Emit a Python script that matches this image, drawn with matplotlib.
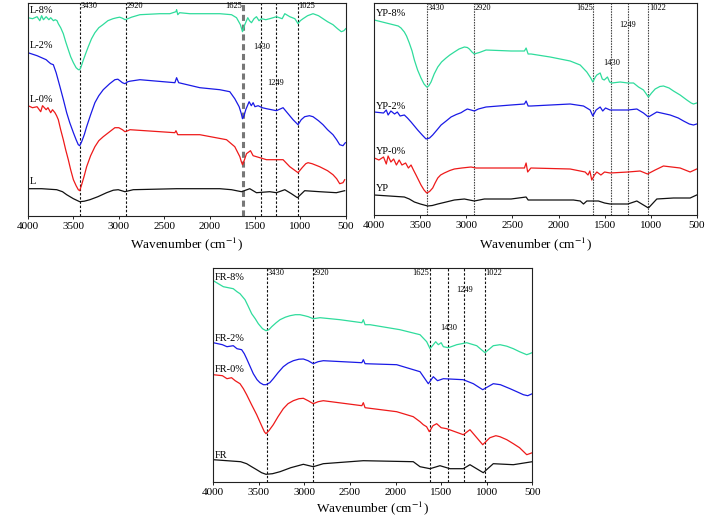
import matplotlib
matplotlib.use("Agg")
import matplotlib.pyplot as plt

# ---------------- data (wavenumber cm-1, relative transmittance) ----------------
xticks = [4000, 3500, 3000, 2500, 2000, 1500, 1000, 500]
xlabel_text = "Wavenumber (cm$^{-1}$)"

# Panel L
L8_wn = [4000, 3950, 3900, 3870, 3850, 3830, 3800, 3770, 3750, 3720, 3700, 3680, 3666, 3640, 3611, 3585, 3556, 3530, 3500, 3470, 3445, 3430, 3415, 3393, 3365, 3336, 3300, 3263, 3220, 3175, 3120, 3064, 3020, 2990, 2960, 2930, 2900, 2860, 2767, 2547, 2437, 2370, 2363, 2350, 2330, 2217, 1887, 1758, 1703, 1660, 1637, 1612, 1579, 1560, 1538, 1510, 1483, 1455, 1428, 1380, 1337, 1263, 1200, 1171, 1116, 1060, 1025, 1000, 970, 920, 860, 800, 750, 700, 640, 590, 548, 520, 500]
L8_T = [198, 197, 199, 195, 200, 196, 199, 196, 198, 195, 196, 195, 192, 188, 182, 174, 166, 159, 153, 148, 146, 146, 149, 155, 162, 169, 177, 183, 188, 191, 195, 197, 198, 198.5, 197.5, 196, 197, 198.5, 201, 202, 202, 204, 206, 201, 203, 202, 202, 201, 198, 191, 184, 191, 198, 195, 193, 197, 199, 195, 197, 196, 197, 199, 197, 202, 199, 197, 192, 195, 197, 200, 202, 200, 197, 194, 191, 187, 184, 185, 187]
L2_wn = [4000, 3900, 3800, 3776, 3750, 3721, 3690, 3648, 3610, 3574, 3540, 3500, 3470, 3446, 3430, 3409, 3380, 3354, 3310, 3263, 3220, 3171, 3100, 3043, 3010, 2988, 2960, 2932, 2900, 2877, 2767, 2382, 2363, 2340, 2107, 1887, 1777, 1722, 1674, 1650, 1637, 1620, 1601, 1564, 1540, 1520, 1500, 1465, 1420, 1373, 1263, 1190, 1135, 1080, 1025, 990, 952, 900, 860, 800, 750, 700, 640, 600, 566, 530, 504]
L2_T = [163, 160, 156, 154, 152, 151, 143, 129, 116, 103, 93, 83, 76, 71, 70, 74, 81, 89, 101, 113, 120, 126, 132, 136, 136.5, 135, 133, 132, 134, 134.5, 136, 133, 138, 133, 128, 126, 124, 117, 109, 102, 97, 100, 106, 114, 110, 113, 109, 110, 108, 107, 105, 108, 102, 96, 91, 96, 99, 100, 99, 95, 91, 86, 81, 76, 71, 70, 73]
L0_wn = [4000, 3950, 3900, 3860, 3840, 3800, 3780, 3750, 3730, 3703, 3685, 3666, 3640, 3611, 3585, 3556, 3530, 3500, 3470, 3446, 3430, 3409, 3380, 3354, 3310, 3263, 3220, 3171, 3100, 3043, 3000, 2960, 2932, 2900, 2877, 2382, 2370, 2350, 2107, 1813, 1722, 1666, 1650, 1637, 1615, 1593, 1549, 1520, 1483, 1373, 1263, 1190, 1116, 1025, 980, 940, 915, 870, 787, 700, 640, 600, 566, 530, 511]
L0_T = [110, 108, 109, 104, 110, 106, 108, 103, 106, 103, 100, 96, 86, 76, 66, 56, 46, 36, 30, 26, 25, 31, 40, 49, 60, 69, 75, 79, 84, 88, 88, 86, 84, 85, 86, 83, 85, 81, 81, 76, 69, 59, 54, 51, 56, 62, 65, 60, 59, 56, 56, 56, 49, 43, 48, 52, 53, 52, 49, 45, 41, 37, 32, 33, 36]
L_wn = [4000, 3850, 3684, 3620, 3574, 3500, 3430, 3380, 3318, 3230, 3134, 3060, 3006, 2932, 2841, 2363, 1887, 1758, 1648, 1557, 1483, 1337, 1263, 1171, 1098, 1032, 952, 787, 603, 511]
L_T = [27, 27, 26, 24, 21, 17, 14, 14.5, 16, 19, 23, 25.5, 26, 24, 26, 27, 27, 26, 24, 27, 23, 24, 23, 26, 22, 18, 25, 24, 23, 25]

# Panel YP
YP8_wn = [4000, 3783, 3740, 3710, 3674, 3650, 3620, 3590, 3565, 3530, 3493, 3460, 3431, 3410, 3384, 3350, 3311, 3270, 3221, 3180, 3131, 3080, 3022, 2990, 2968, 2940, 2914, 2880, 2859, 2787, 2515, 2370, 2352, 2330, 2298, 2091, 1874, 1765, 1693, 1650, 1628, 1600, 1584, 1548, 1525, 1504, 1469, 1445, 1421, 1331, 1247, 1186, 1132, 1078, 1024, 990, 951, 900, 861, 800, 752, 680, 607, 560, 535, 500]
YP8_T = [195, 190, 189, 187, 183, 179, 172, 164, 155, 145, 137, 131, 128, 129, 133, 141, 148, 153, 157, 160, 163, 166, 168, 167.5, 166, 163, 161, 162, 162.5, 165, 164, 164, 167, 161, 161, 158, 154, 150, 143, 137, 133, 138, 140, 142, 136, 135, 138, 133, 132, 133, 132, 132, 128, 125, 118, 122, 126, 128.5, 129, 127, 124, 120, 115, 112, 111, 112]
YP2_wn = [4000, 3900, 3870, 3850, 3820, 3780, 3750, 3720, 3674, 3640, 3601, 3565, 3529, 3480, 3438, 3400, 3366, 3320, 3275, 3220, 3167, 3110, 3058, 3020, 2990, 2950, 2914, 2870, 2787, 2515, 2370, 2352, 2330, 2298, 1874, 1729, 1657, 1628, 1592, 1548, 1520, 1490, 1440, 1247, 1150, 1078, 1024, 933, 788, 700, 643, 580, 535, 500]
YP2_T = [103, 102, 105, 100, 104, 101, 103, 99, 100, 97, 93, 89, 85, 80, 76, 77, 80, 85, 90, 94, 98, 100.5, 102.3, 104.5, 106, 105, 104, 106, 108, 110, 111, 114, 109, 109, 111, 109, 105, 99, 105, 108, 104, 107, 105, 105, 106, 102, 98, 103, 100, 97, 94, 91, 90, 91]
YP0_wn = [4000, 3950, 3900, 3870, 3850, 3820, 3790, 3760, 3730, 3700, 3660, 3630, 3601, 3575, 3547, 3520, 3493, 3460, 3431, 3400, 3366, 3340, 3311, 3280, 3240, 3180, 3131, 3050, 2950, 2895, 2515, 2370, 2352, 2335, 2300, 1874, 1711, 1680, 1660, 1639, 1610, 1584, 1540, 1500, 1440, 1247, 1114, 1034, 951, 861, 680, 571, 500]
YP0_T = [57, 55, 58, 51, 59, 53, 56, 50, 55, 50, 52, 47, 50, 45, 40, 35, 30, 25, 22, 23.5, 27, 32, 37, 40, 42, 44.5, 46, 47, 48, 47, 47, 47, 52, 43, 47, 46, 43, 40, 44, 35, 40, 43, 40, 43, 42, 43, 44, 41, 45, 49, 47, 43, 46]
YP_wn = [4000, 3674, 3620, 3565, 3500, 3420, 3370, 3311, 3220, 3131, 3022, 2914, 2805, 2515, 2352, 2330, 1838, 1765, 1729, 1693, 1567, 1500, 1440, 1247, 1150, 1078, 1024, 933, 752, 571, 500]
YP_T = [20, 18, 16, 13, 11, 9, 9.5, 11, 13, 15, 16, 14, 16, 16, 18, 15, 15, 14, 11, 14, 14, 12, 11, 11, 14, 10, 7, 16, 17, 17, 20]

# Panel FR
FR8_wn = [4000, 3890, 3781, 3740, 3707, 3652, 3620, 3579, 3540, 3506, 3460, 3422, 3390, 3359, 3310, 3268, 3210, 3158, 3100, 3049, 3000, 2958, 2903, 2829, 2610, 2370, 2354, 2335, 2281, 1952, 1732, 1659, 1622, 1586, 1560, 1531, 1500, 1476, 1421, 1329, 1220, 1110, 1019, 928, 854, 780, 708, 640, 561, 530, 503]
FR8_T = [201, 195, 193, 190, 188, 182, 176, 168, 163, 158, 153, 151, 152, 155, 159, 162, 164.5, 166, 167, 167, 166, 165, 163, 164, 162, 159, 162, 157, 157, 152, 147, 140, 133, 137, 140, 137, 139, 135, 134, 137, 139, 136, 129, 136, 137, 135.5, 133, 130, 127, 128, 129]
FR2_wn = [4000, 3900, 3850, 3781, 3740, 3689, 3660, 3634, 3600, 3561, 3520, 3488, 3450, 3422, 3380, 3342, 3290, 3232, 3180, 3122, 3060, 3012, 2960, 2903, 2850, 2793, 2370, 2354, 2335, 1988, 1732, 1641, 1586, 1540, 1476, 1257, 1147, 1044, 928, 850, 744, 670, 598, 550, 500]
FR2_T = [139, 137, 135, 136, 133, 132, 128, 123, 116, 108, 102, 99, 97, 97, 99, 103, 109, 115, 118.5, 121, 122.5, 122.7, 121, 118, 120, 121, 119, 122, 118, 117, 110, 98, 105, 101, 103, 102, 98, 92, 98, 97, 93, 90, 87, 86, 88]
FR0_wn = [4000, 3900, 3850, 3800, 3760, 3707, 3670, 3634, 3580, 3524, 3470, 3440, 3422, 3390, 3342, 3290, 3232, 3180, 3122, 3060, 3012, 2960, 2903, 2850, 2793, 2370, 2354, 2335, 1988, 1806, 1732, 1696, 1660, 1630, 1590, 1549, 1500, 1439, 1257, 1184, 1044, 965, 900, 855, 780, 708, 640, 561, 530, 500]
FR0_T = [107, 106, 103, 104, 101, 98, 93, 87, 77, 67, 56, 50, 48, 51, 57, 65, 73, 78, 81, 83, 83.4, 81, 78, 80, 81, 76, 79, 74, 70, 65, 60, 57, 55, 50, 56, 58, 54, 53, 47, 52, 37, 44, 46, 45, 42, 38, 34, 27, 28, 29]
FR_wn = [4000, 3700, 3634, 3580, 3524, 3470, 3422, 3350, 3268, 3150, 3012, 2903, 2793, 2354, 1806, 1732, 1622, 1513, 1403, 1257, 1184, 1038, 928, 708, 500]
FR_T = [22, 20, 18, 15, 12, 9, 7.4, 8, 10, 14, 17.4, 15, 18, 21, 20, 15, 13, 16, 13, 13, 17, 9, 18, 17, 20]

# peak markers: line positions and their label text
L_peaks = [3430, 2920, 1634, 1428, 1267, 1025]
L_peak_labels = ["3430", "2920", "1625", "1430", "1249", "1025"]
YP_peaks = [3431, 2914, 1621, 1425, 1247, 1024]
YP_peak_labels = ["3430", "2920", "1625", "1430", "1249", "1022"]
FR_peaks = [3414, 2910, 1622, 1421, 1246, 1019]
FR_peak_labels = ["3430", "2920", "1625", "1430", "1249", "1022"]

C_GREEN = "#2FDC9C"
C_BLUE = "#1A1AE6"
C_RED = "#EE1A1A"
C_BLACK = "#111111"

SERIF = ["Liberation Serif", "DejaVu Serif"]
plt.rcParams["font.family"] = SERIF
plt.rcParams["mathtext.fontset"] = "stix"

fig = plt.figure(figsize=(7.22, 5.19), dpi=100)

def panel(rect, ymax, curves, labels, label_pos, peaks, peak_labels, peak_y,
          vstyle, special=None, labelpad=3.5):
    ax = fig.add_axes(rect)
    for (wn, t, c) in curves:
        ax.plot(wn, t, color=c, lw=0.9)
    for i, (p, lab) in enumerate(zip(peaks, peak_labels)):
        if special is not None and i == special:
            ax.axvline(p, color="#777777", lw=2.2, ls=(0, (2, 1.2)), zorder=0)
        else:
            ax.axvline(p, color=vstyle[0], lw=0.8, ls=vstyle[1], zorder=0)
    y_top, y_1249, y_1430 = peak_y
    fs = 6
    ax.text(peaks[0] - 5, y_top, peak_labels[0], fontsize=fs, ha="left", va="center")
    ax.text(peaks[1] - 5, y_top, peak_labels[1], fontsize=fs, ha="left", va="center")
    ax.text(peaks[2] + 5, y_top, peak_labels[2], fontsize=fs, ha="right", va="center")
    ax.text(peaks[3], y_1430, peak_labels[3], fontsize=fs, ha="center", va="center")
    ax.text(peaks[4], y_1249, peak_labels[4], fontsize=fs, ha="center", va="center")
    ax.text(peaks[5] - 5, y_top, peak_labels[5], fontsize=fs, ha="left", va="center")
    for lab, yy in zip(labels, label_pos):
        ax.text(3985, yy, lab, fontsize=7.5, ha="left", va="center")
    ax.set_xlim(4000, 500)
    ax.set_ylim(0, ymax)
    ax.set_xticks(xticks)
    ax.set_xticklabels([str(v) for v in xticks], fontsize=8)
    ax.set_yticks([])
    ax.tick_params(axis="x", direction="out", length=2.5, width=0.6, pad=2)
    for s in ax.spines.values():
        s.set_linewidth(0.8)
        s.set_color("#222222")
    ax.set_xlabel(xlabel_text, fontsize=9.5, labelpad=labelpad)
    return ax

W, H = 722.0, 519.0
def rect(l, r, t, b):
    return [l / W, 1 - b / H, (r - l) / W, (b - t) / H]

panel(rect(28, 345.7, 2.7, 215.7), 213,
      [(L_wn, L_T, C_BLACK), (L0_wn, L0_T, C_RED), (L2_wn, L2_T, C_BLUE), (L8_wn, L8_T, C_GREEN)],
      ["L-8%", "L-2%", "L-0%", "L"], [205, 170, 116, 34],
      L_peaks, L_peak_labels, (209.5, 132.4, 168.4),
      ("#111111", (0, (2.2, 1.6))), special=2)

panel(rect(374.3, 696.7, 3.3, 215), 211.7,
      [(YP_wn, YP_T, C_BLACK), (YP0_wn, YP0_T, C_RED), (YP2_wn, YP2_T, C_BLUE), (YP8_wn, YP8_T, C_GREEN)],
      ["YP-8%", "YP-2%", "YP-0%", "YP"], [201.7, 109, 63.3, 26.7],
      YP_peaks, YP_peak_labels, (206.7, 190, 152.3),
      ("#444444", (0, (1.4, 1.0))))

panel(rect(213.3, 532.3, 268.3, 481.7), 213.4,
      [(FR_wn, FR_T, C_BLACK), (FR0_wn, FR0_T, C_RED), (FR2_wn, FR2_T, C_BLUE), (FR8_wn, FR8_T, C_GREEN)],
      ["FR-8%", "FR-2%", "FR-0%", "FR"], [204, 143.4, 111.7, 26.7],
      FR_peaks, FR_peak_labels, (208.4, 191.7, 153.4),
      ("#111111", (0, (2.2, 1.6))), labelpad=1.5)

fig.savefig("out.png", dpi=100)
